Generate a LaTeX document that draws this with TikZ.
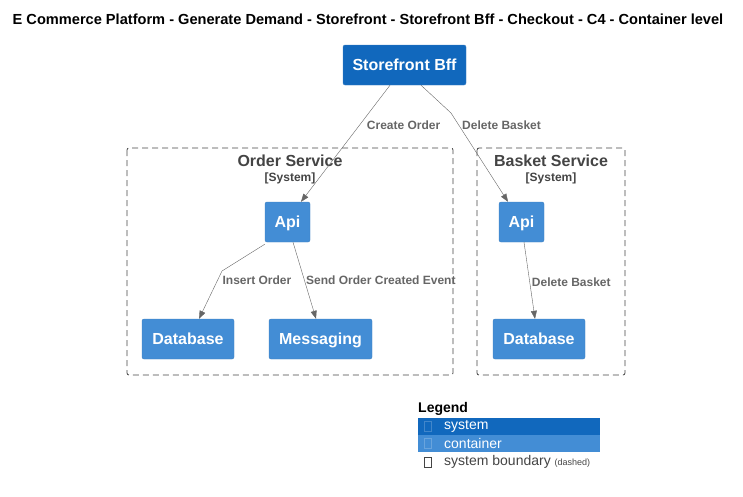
\documentclass[tikz,border=0pt]{standalone}
\usepackage{fontspec}
\setmainfont{Liberation Sans}
\usetikzlibrary{arrows.meta}
\definecolor{sysblue}{HTML}{1168BD}
\definecolor{contblue}{HTML}{438DD5}
\definecolor{edgeblue}{HTML}{3C7FC0}
\definecolor{bndgray}{HTML}{444444}
\definecolor{relgray}{HTML}{666666}
\begin{document}
\begin{tikzpicture}[x=1pt,y=-1pt,
 sysbox/.style={draw=edgeblue,fill=sysblue,rounded corners=2pt,text=white,
  inner sep=0pt,minimum height=40pt,text height=12pt,text depth=1pt,
  font=\fontsize{16}{19}\selectfont\bfseries},
 contbox/.style={sysbox,fill=contblue},
 bnd/.style={draw=bndgray,line width=.8pt,dash pattern=on 6pt off 4pt,rounded corners=2pt},
 rel/.style={draw=relgray,-{Triangle[length=8pt,width=6pt]}},
 rellbl/.style={text=relgray,inner sep=0pt,font=\fontsize{12}{14}\selectfont\bfseries},
 icon/.style={draw=#1,line width=.6pt,minimum width=7pt,minimum height=10pt,inner sep=0pt}]
 \useasboundingbox (0,0) rectangle (743,496);
 \node[font=\fontsize{14.6}{17}\selectfont\bfseries] (title) at (368,19)
  {E Commerce Platform - Generate Demand - Storefront - Storefront Bff - Checkout - C4 - Container level};
 % boundaries
 \draw[bnd] (127,148) rectangle (453,375);
 \draw[bnd] (477,148) rectangle (625,375);
 \path[text=bndgray]
 (290,161) node[font=\fontsize{16}{19}\selectfont\bfseries] (orderT) {Order Service}
 ++(0,17) node[font=\fontsize{12}{14}\selectfont\bfseries] (orderS) {[System]}
 (551,161) node[font=\fontsize{16}{19}\selectfont\bfseries] (basketT) {Basket Service}
 ++(0,17) node[font=\fontsize{12}{14}\selectfont\bfseries] (basketS) {[System]};
 % nodes
 \node[sysbox,minimum width=123pt] (bff) at (404.5,65) {Storefront Bff};
 \node[contbox,minimum width=45pt] (oApi) at (287.5,222) {Api};
 \node[contbox,minimum width=92pt] (oDb) at (188,339) {Database};
 \node[contbox,minimum width=103pt] (oMsg) at (320.5,339) {Messaging};
 \node[contbox,minimum width=45pt] (bApi) at (521.5,222) {Api};
 \node[contbox,minimum width=92pt] (bDb) at (539,339) {Database};
 \coordinate (delBend) at (451,113);
 \coordinate (insBend) at (222,271);
 % relations
 \draw[rel] ([xshift=-14.5pt]bff.south) -- node[rellbl,pos=.34,right=7pt]{Create Order} ([xshift=13.5pt]oApi.north);
 \draw[rel] ([xshift=16.5pt]bff.south) -- (delBend)
  -- node[rellbl,pos=.14,right=3pt]{Delete Basket} ([xshift=-13.5pt]bApi.north);
 \draw[rel] ([yshift=-2pt]oApi.south west) -- (insBend)
  -- node[rellbl,pos=.2,right=5pt]{Insert Order} ([xshift=11pt]oDb.north);
 \draw[rel] ([xshift=5.5pt]oApi.south) -- node[rellbl,pos=.5,right=1.5pt]{Send Order Created Event} ([xshift=-4.5pt]oMsg.north);
 \draw[rel] ([xshift=2.5pt]bApi.south) -- node[rellbl,pos=.52,right=2pt]{Delete Basket} ([xshift=-4pt]bDb.north);
 % legend
 \fill[sysblue] (418,418) rectangle (600,435);
 \fill[contblue] (418,435) rectangle (600,452);
 \path[font=\fontsize{14}{16}\selectfont]
 (418,409) node[right,inner sep=0pt,font=\fontsize{14}{16}\selectfont\bfseries] (lgd) {Legend}
 (428,426.5) node[icon=sysblue!80!white] (icoSys) {}
 ++(16,0) node[right,inner sep=0pt,text=white] (lgdSys) {system}
 (428,443.5) node[icon=contblue!80!white] (icoCont) {}
 ++(16,0) node[right,inner sep=0pt,text=white] (lgdCont) {container}
 (428,462) node[icon=bndgray] (icoBnd) {}
 ++(16,0) node[right,inner sep=0pt,text=bndgray] (lgdBnd)
  {system boundary {\fontsize{9}{10}\selectfont(dashed)}};
\end{tikzpicture}
\end{document}
